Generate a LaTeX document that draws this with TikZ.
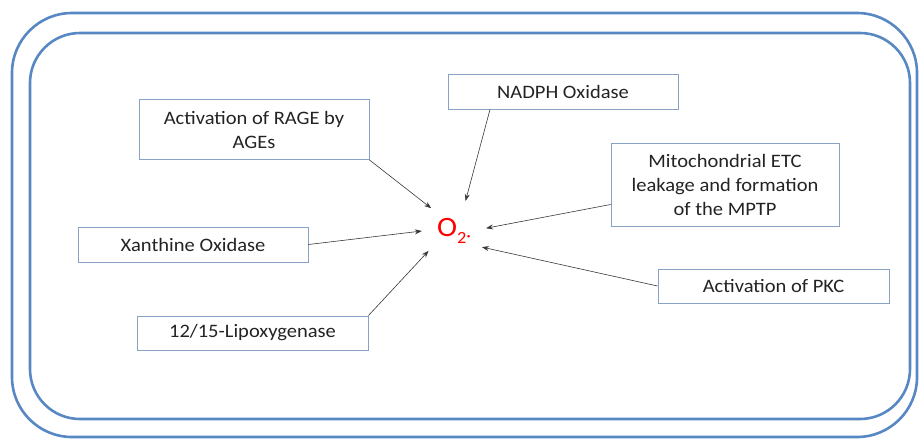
\documentclass[tikz,border=0pt]{standalone}
\usepackage{fontspec}
\setmainfont{Carlito}[FakeStretch=1.08]
\usepackage{tikz}
\usetikzlibrary{arrows.meta}

\definecolor{cellblue}{RGB}{88,136,196}
\definecolor{boxblue}{RGB}{135,162,196}
\definecolor{arrowgray}{RGB}{55,55,55}
\definecolor{textgray}{RGB}{35,35,35}

\begin{document}
\begin{tikzpicture}[x=1pt,y=-1pt,
	src/.style={shape=rectangle,draw=boxblue,line width=0.9pt,text=textgray,
		align=center,inner sep=2pt,font=\fontsize{19}{24}\selectfont},
	arr/.style={-{Stealth[length=7pt,width=5pt]},color=arrowgray,line width=0.6pt},
	every loop/.style={}]

	\useasboundingbox (0,0) rectangle (920,440);

	\draw[cellblue,line width=2.6pt,rounded corners=60pt] (12,13) rectangle (917,437);
	\draw[cellblue,line width=2.6pt,rounded corners=50pt] (30,33) rectangle (910,419);

	\node[src,minimum width=230pt,minimum height=60pt] (rage)  at (254, 129.5) {Activation of RAGE by\\AGEs};
	\node[src,minimum width=230pt,minimum height=35pt] (nadph) at (563, 91.5)  {NADPH Oxidase};
	\node[src,minimum width=228pt,minimum height=83pt] (mito)  at (725, 184.5) {Mitochondrial ETC\\leakage and formation\\of the MPTP};
	\node[src,minimum width=230pt,minimum height=35pt] (xan)   at (193, 244.5) {Xanthine Oxidase};
	\node[src,minimum width=231pt,minimum height=34pt] (lipox) at (252.5, 333) {12/15-Lipoxygenase};
	\node[src,minimum width=231pt,minimum height=34pt] (pkc)   at (773.5, 286) {Activation of PKC};

	\node[shape=circle,minimum size=64pt,inner sep=0pt,text=red] (o2) at (454, 231)
		{\fontsize{28}{28}\selectfont O\raisebox{-7pt}{\fontsize{17}{17}\selectfont 2\raisebox{2pt}{·}}};

	\path[arr] (rage.south east)               edge (o2.135);
	\path[arr] ([xshift=-73pt]nadph.south)     edge (o2.69);
	\path[arr] ([yshift=-20pt]mito.west)       edge (o2.5);
	\path[arr] (xan.east)                      edge (o2.180);
	\path[arr] (lipox.north east)              edge (o2.218);
	\path[arr] (pkc.west)                      edge (o2.330);
\end{tikzpicture}
\end{document}
